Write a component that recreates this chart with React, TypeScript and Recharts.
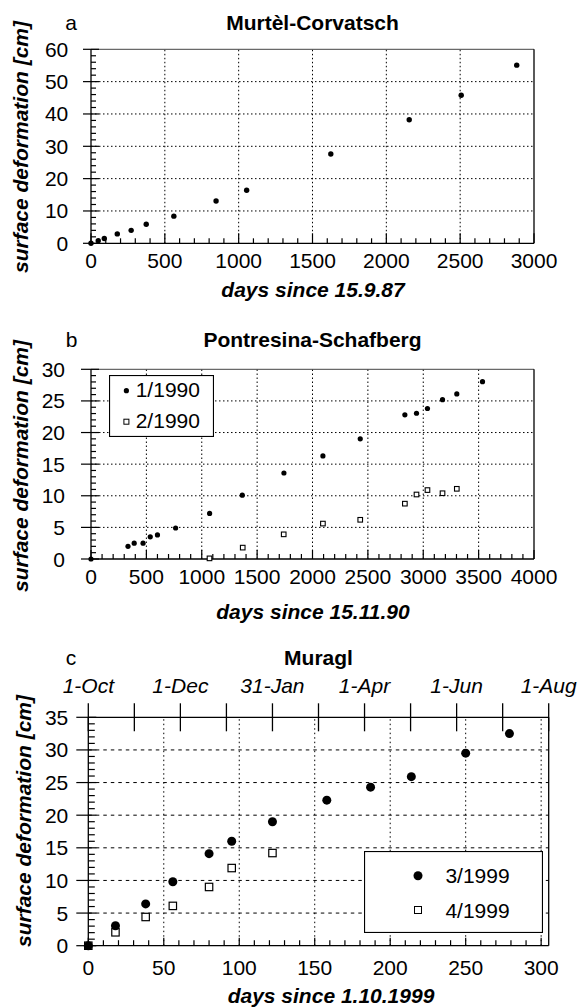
import { ScatterChart, Scatter, XAxis, YAxis, ReferenceLine, Legend } from "recharts";

const FONT = '"Liberation Sans", Arial, Helvetica, sans-serif';

// a: Murtèl-Corvatsch
const daysA = [0, 49, 90, 178, 272, 374, 561, 847, 1054, 1624, 2155, 2507, 2883];
const defA = [0, 0.8, 1.5, 2.9, 4.0, 5.9, 8.4, 13.1, 16.4, 27.6, 38.2, 45.8, 55.1];

// b: Pontresina-Schafberg
const daysB1 = [0, 334, 390, 470, 535, 600, 764, 1071, 1366, 1742, 2094, 2431, 2834, 2939, 3038, 3174, 3303, 3535];
const defB1 = [0, 2.0, 2.5, 2.5, 3.5, 3.8, 4.9, 7.2, 10.1, 13.6, 16.3, 19.0, 22.8, 23.05, 23.8, 25.2, 26.1, 28.05];
const daysB2 = [1070, 1370, 1740, 2094, 2431, 2834, 2939, 3038, 3174, 3303];
const defB2 = [0.1, 1.8, 3.9, 5.6, 6.2, 8.75, 10.2, 10.9, 10.4, 11.1];

// c: Muragl
const daysC3 = [0, 18, 38, 56, 80, 95, 122, 158, 187, 214, 250, 279];
const defC3 = [0, 3.05, 6.4, 9.8, 14.1, 16.0, 19.0, 22.3, 24.3, 25.9, 29.5, 32.5];
const daysC4 = [0, 18, 38, 56, 80, 95, 122];
const defC4 = [0, 2.05, 4.4, 6.1, 9.0, 11.9, 14.2];

const monthTicks = [0, 30.5, 61, 91.5, 122, 152.5, 183, 213.5, 244, 274.5, 305];
const monthLabels = ["1-Oct", "", "1-Dec", "", "31-Jan", "", "1-Apr", "", "1-Jun", "", "1-Aug"];

const gridXA = [500, 1000, 1500, 2000, 2500];
const gridYA = [10, 20, 30, 40, 50];
const gridXB = [500, 1000, 1500, 2000, 2500, 3000, 3500];
const gridYB = [5, 10, 15, 20, 25];
const gridXC = [50, 100, 150, 200, 250, 300];
const gridYC = [5, 10, 15, 20, 25, 30];

const steps = (a: number, b: number, s: number) =>
  Array.from({ length: Math.round((b - a) / s) + 1 }, (_, i) => +(a + i * s).toFixed(3));

const isMajor = (v: number, m: number) => Math.abs(v / m - Math.round(v / m)) < 1e-6;

type TickOpts = { major: number; majIn: number; majOut: number; minIn: number; off: number };

const xTick = (o: TickOpts) => (p: any) => {
  const v = p.payload.value;
  const maj = isMajor(v, o.major);
  return (
    <g>
      <line x1={p.x} x2={p.x} y1={p.y + (maj ? o.majOut : 0)} y2={p.y - (maj ? o.majIn : o.minIn)} stroke="#000" strokeWidth={1.2} />
      {maj && (
        <text x={p.x} y={p.y + o.off} textAnchor="middle" fontSize={21} fontFamily={FONT} fill="#000">
          {v}
        </text>
      )}
    </g>
  );
};

const yTick = (o: TickOpts) => (p: any) => {
  const v = p.payload.value;
  const maj = isMajor(v, o.major);
  return (
    <g>
      <line y1={p.y} y2={p.y} x1={p.x - (maj ? o.majOut : 0)} x2={p.x + (maj ? o.majIn : o.minIn)} stroke="#000" strokeWidth={1.2} />
      {maj && (
        <text x={p.x - o.off} y={p.y + 7.5} textAnchor="end" fontSize={21} fontFamily={FONT} fill="#000">
          {v}
        </text>
      )}
    </g>
  );
};

const monthTick = (p: any) => {
  const i = monthTicks.indexOf(p.payload.value);
  return (
    <g>
      <line x1={p.x} x2={p.x} y1={p.y - 14} y2={p.y + 14} stroke="#000" strokeWidth={1.3} />
      {monthLabels[i] && (
        <text x={p.x} y={p.y - 24} textAnchor="middle" fontSize={21} fontStyle="italic" fontFamily={FONT} fill="#000">
          {monthLabels[i]}
        </text>
      )}
    </g>
  );
};

const dot = (r: number) => (p: any) => <circle cx={p.cx} cy={p.cy} r={r} fill="#000" />;
const box = (s: number, sw: number) => (p: any) => (
  <rect x={p.cx - s / 2} y={p.cy - s / 2} width={s} height={s} fill="#fff" stroke="#000" strokeWidth={sw} />
);

const axisLine = { stroke: "#000", strokeWidth: 1.3 };
const gridStyle = { stroke: "#000", strokeWidth: 1, strokeDasharray: "1.5 2.5" };

type LegendRow = { marker: "dot" | "box"; size: number; cy: number; base: number };

function legendBox(w: number, h: number, mx: number, tx: number, rows: Record<string, LegendRow>) {
  return (props: any) => {
    const payload = props.payload || [];
    return (
      <svg width={w} height={h} style={{ display: "block" }}>
        <rect x={0.5} y={0.5} width={w - 1} height={h - 1} fill="#fff" stroke="#000" strokeWidth={1.2} />
        {payload.map((entry: any) => {
          const r = rows[entry.value];
          if (!r) return null;
          return (
            <g key={entry.value}>
              {r.marker === "dot" ? (
                <circle cx={mx} cy={r.cy} r={r.size} fill="#000" />
              ) : (
                <rect x={mx - r.size / 2} y={r.cy - r.size / 2} width={r.size} height={r.size} fill="#fff" stroke="#000" strokeWidth={1} />
              )}
              <text x={tx} y={r.base} fontSize={21} fontFamily={FONT} fill="#000">
                {entry.value}
              </text>
            </g>
          );
        })}
      </svg>
    );
  };
}

function PanelA() {
  const data = daysA.map((x, i) => ({ x, y: defA[i] }));
  return (
    <ScatterChart width={579} height={300} margin={{ top: 49.3, right: 45, left: 31, bottom: 26.7 }}>
      <XAxis type="number" dataKey="x" domain={[0, 3000]} ticks={steps(0, 3000, 100)} interval={0} height={30}
        tickSize={0} tickMargin={0} tickLine={false} axisLine={axisLine}
        tick={xTick({ major: 500, majIn: 10, majOut: 0, minIn: 5, off: 25 })} />
      <YAxis type="number" dataKey="y" domain={[0, 60]} ticks={steps(0, 60, 2)} interval={0} width={60}
        tickSize={0} tickMargin={0} tickLine={false} axisLine={axisLine}
        tick={yTick({ major: 10, majIn: 8, majOut: 8, minIn: 5, off: 22.7 })} />
      {gridXA.map((v) => <ReferenceLine key={"x" + v} x={v} {...gridStyle} />)}
      {gridYA.map((v) => <ReferenceLine key={"y" + v} y={v} {...gridStyle} />)}
      <ReferenceLine y={60} stroke="#444" strokeWidth={1} />
      <ReferenceLine x={3000} stroke="#000" strokeWidth={1.3} />
      <Scatter data={data} shape={dot(2.7)} isAnimationActive={false} />
    </ScatterChart>
  );
}

function PanelB() {
  const d1 = daysB1.map((x, i) => ({ x, y: defB1[i] }));
  const d2 = daysB2.map((x, i) => ({ x, y: defB2[i] }));
  return (
    <ScatterChart width={579} height={330} margin={{ top: 69.3, right: 45, left: 31, bottom: 41 }}>
      <XAxis type="number" dataKey="x" domain={[0, 4000]} ticks={steps(0, 4000, 100)} interval={0} height={30}
        tickSize={0} tickMargin={0} tickLine={false} axisLine={axisLine}
        tick={xTick({ major: 500, majIn: 9, majOut: 0, minIn: 5, off: 25 })} />
      <YAxis type="number" dataKey="y" domain={[0, 30]} ticks={steps(0, 30, 1)} interval={0} width={60}
        tickSize={0} tickMargin={0} tickLine={false} axisLine={axisLine}
        tick={yTick({ major: 5, majIn: 8, majOut: 10, minIn: 5, off: 26 })} />
      {gridXB.map((v) => <ReferenceLine key={"x" + v} x={v} {...gridStyle} />)}
      {gridYB.map((v) => <ReferenceLine key={"y" + v} y={v} {...gridStyle} />)}
      <ReferenceLine y={30} stroke="#444" strokeWidth={1} />
      <ReferenceLine x={4000} stroke="#000" strokeWidth={1.3} />
      <Scatter name="1/1990" data={d1} shape={dot(2.6)} isAnimationActive={false} />
      <Scatter name="2/1990" data={d2} shape={box(4.6, 1.1)} isAnimationActive={false} />
      <Legend layout="vertical" verticalAlign="middle" align="center"
        wrapperStyle={{ left: 109.3, top: 75, width: 105, height: 62 }}
        content={legendBox(105, 62, 17.4, 26.7, {
          "1/1990": { marker: "dot", size: 2.6, cy: 15.7, base: 21.7 },
          "2/1990": { marker: "box", size: 5, cy: 46.7, base: 53.3 },
        })} />
    </ScatterChart>
  );
}

function PanelC() {
  const d3 = daysC3.map((x, i) => ({ x, y: defC3[i] }));
  const d4 = daysC4.map((x, i) => ({ x, y: defC4[i] }));
  return (
    <ScatterChart width={579} height={378} margin={{ top: 47.3, right: 30.3, left: 28.3, bottom: 32.3 }}>
      <XAxis type="number" dataKey="x" domain={[0, 305]} ticks={steps(0, 300, 10)} interval={0} height={30}
        tickSize={0} tickMargin={0} tickLine={false} axisLine={axisLine}
        tick={xTick({ major: 50, majIn: 8, majOut: 0, minIn: 5.5, off: 29.3 })} />
      <XAxis xAxisId="top" orientation="top" type="number" dataKey="x" domain={[0, 305]} allowDataOverflow
        ticks={monthTicks} interval={0} height={40} tickSize={0} tickMargin={0} tickLine={false}
        axisLine={axisLine} tick={monthTick} />
      <YAxis type="number" dataKey="y" domain={[0, 35]} ticks={steps(0, 35, 1)} interval={0} width={60}
        tickSize={0} tickMargin={0} tickLine={false} axisLine={axisLine}
        tick={yTick({ major: 5, majIn: 8, majOut: 12, minIn: 6.5, off: 20 })} />
      {gridXC.map((v) => <ReferenceLine key={"x" + v} x={v} {...gridStyle} strokeDasharray="1.5 3" />)}
      {gridYC.map((v) => <ReferenceLine key={"y" + v} y={v} {...gridStyle} strokeDasharray="3.5 4" />)}
      <ReferenceLine x={305} stroke="#000" strokeWidth={1.3} />
      <Scatter name="4/1999" data={d4} shape={box(7.4, 1.2)} isAnimationActive={false} />
      <Scatter name="3/1999" data={d3} shape={dot(4.5)} isAnimationActive={false} />
      <Legend layout="vertical" verticalAlign="middle" align="center"
        wrapperStyle={{ left: 364.3, top: 221, width: 179, height: 82 }}
        content={legendBox(179, 82, 54, 81.4, {
          "3/1999": { marker: "dot", size: 4.5, cy: 24.7, base: 31.7 },
          "4/1999": { marker: "box", size: 7, cy: 59, base: 66.7 },
        })} />
    </ScatterChart>
  );
}

const label = { fontSize: 21, fontFamily: FONT, fill: "#000" } as const;

function Titles() {
  const yLab = (x: number, y: number) => (
    <text x={x} y={y} transform={`rotate(-90 ${x} ${y})`} textAnchor="middle" fontWeight="bold" fontStyle="italic" {...label}>
      surface deformation [cm]
    </text>
  );
  return (
    <svg width={579} height={1008} style={{ position: "absolute", left: 0, top: 0, pointerEvents: "none" }}>
      <text x={71} y={30} textAnchor="middle" {...label}>a</text>
      <text x={312.5} y={30} textAnchor="middle" fontWeight="bold" {...label}>Murtèl-Corvatsch</text>
      <text x={313} y={297} textAnchor="middle" fontWeight="bold" fontStyle="italic" {...label}>days since 15.9.87</text>
      {yLab(28, 147)}

      <text x={71.7} y={346.7} textAnchor="middle" {...label}>b</text>
      <text x={312.5} y={346.7} textAnchor="middle" fontWeight="bold" {...label}>Pontresina-Schafberg</text>
      <text x={313} y={619} textAnchor="middle" fontWeight="bold" fontStyle="italic" {...label}>days since 15.11.90</text>
      {yLab(28, 466)}

      <text x={71} y={665} textAnchor="middle" {...label}>c</text>
      <text x={318.5} y={665} textAnchor="middle" fontWeight="bold" {...label}>Muragl</text>
      <text x={331} y={1003} textAnchor="middle" fontWeight="bold" fontStyle="italic" {...label}>days since 1.10.1999</text>
      {yLab(31, 821)}
    </svg>
  );
}

export default function App() {
  return (
    <div style={{ position: "absolute", left: 0, top: 0, width: 579, height: 1008, background: "#fff", fontFamily: FONT }}>
      <div style={{ position: "absolute", left: 0, top: 0 }}>
        <PanelA />
      </div>
      <div style={{ position: "absolute", left: 0, top: 300 }}>
        <PanelB />
      </div>
      <div style={{ position: "absolute", left: 0, top: 630 }}>
        <PanelC />
      </div>
      <Titles />
    </div>
  );
}
